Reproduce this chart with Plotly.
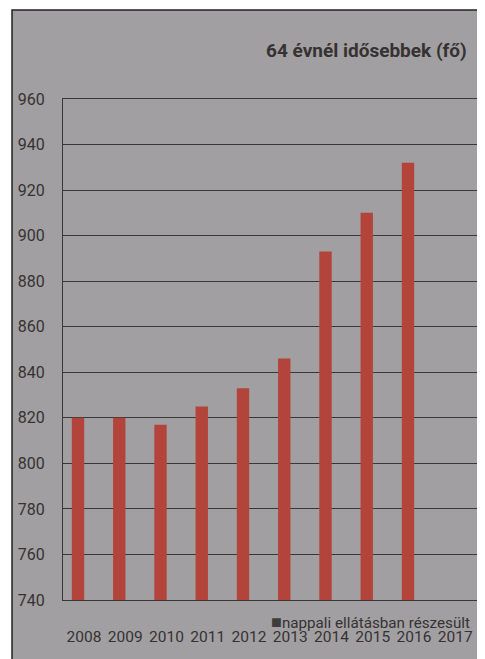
import plotly.graph_objects as go

years = ["2008", "2009", "2010", "2011", "2012", "2013", "2014", "2015", "2016", "2017"]
values = [820, 820, 817, 825, 833, 846, 893, 910, 932, None]
y_ticks = [740, 760, 780, 800, 820, 840, 860, 880, 900, 920, 940, 960]
series_name = "nappali ellátásban részesült"
title_text = "64 évnél idősebbek (fő)"

FONT = "Roboto, 'Noto Sans', sans-serif"
PANEL = "#a19fa1"
TEXT = "#363232"
LINE = "#3a3737"

# page body has an 8px margin; figure sized to fit the 485x659 window
OFF = 8
W, H = 485 - OFF, 659 - OFF
L, R, T, B = 63 - OFF, 485 - 477, 99 - OFF, 659 - 600

pw, ph = W - L - R, H - T - B

def px(x):
    return (x - OFF - L) / pw

def py(y):
    return (H - B - (y - OFF)) / ph

fig = go.Figure()
fig.add_trace(go.Bar(
    x=list(range(len(years))), y=values, name=series_name,
    marker=dict(color="#b3443b", line=dict(width=0)),
    showlegend=False,
))

fig.add_shape(type="rect", xref="paper", yref="paper",
              x0=px(12), x1=px(500), y0=py(680), y1=py(10),
              fillcolor=PANEL, line=dict(color="#222", width=1.5), layer="below")

fig.add_annotation(text="<b>" + title_text + "</b>", xref="paper", yref="paper",
                   x=px(469), y=py(50), xanchor="right", yanchor="middle",
                   showarrow=False, font=dict(family=FONT, size=19, color=TEXT))

# legend-like label (overlapping the axis labels as in the reference)
fig.add_annotation(text="<span style='color:#3f3c3c;font-size:18px'>■</span>" + series_name,
                   xref="paper", yref="paper",
                   x=px(472), y=py(621), xanchor="right", yanchor="middle",
                   showarrow=False, font=dict(family=FONT, size=15.2, color=TEXT))

fig.update_layout(
    width=W, height=H,
    margin=dict(l=L, r=R, t=T, b=B),
    paper_bgcolor="white",
    plot_bgcolor="rgba(0,0,0,0)",
    bargap=0.7,
    font=dict(family=FONT, size=15, color=TEXT),
    showlegend=False,
)
fig.update_xaxes(range=[-0.364, 9.673], tickvals=list(range(len(years))), ticktext=years,
                 showgrid=False, showline=True, mirror=True, linecolor=LINE, linewidth=1.2,
                 ticks="", ticklabelstandoff=22, ticklabelshift=6,
                 tickfont=dict(family=FONT, size=15.5, color=TEXT))
fig.update_yaxes(range=[740, 960], tickvals=y_ticks, showgrid=True, gridcolor=LINE,
                 gridwidth=1.2, showline=True, linecolor=LINE, linewidth=1.2,
                 zeroline=False, ticks="", ticklabelstandoff=14,
                 tickfont=dict(family=FONT, size=16, color=TEXT))

fig.write_html("out.html")
